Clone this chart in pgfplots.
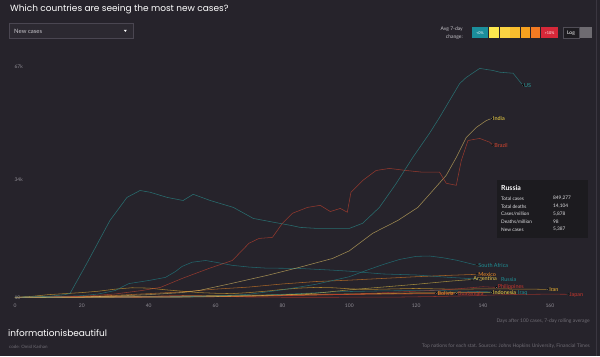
\documentclass[border=0pt]{standalone}
\usepackage{pgfplots}
\pgfplotsset{compat=1.18}
\usepackage{fontspec}
\setmainfont{Lato}
\newfontfamily\titlefont{Poppins}
\definecolor{bg}{HTML}{26232B}
\definecolor{tick}{HTML}{8E8B93}
\definecolor{dimtxt}{HTML}{6F6C74}
\definecolor{cUS}{HTML}{2A9C9A}
\definecolor{cIndia}{HTML}{EBCB6A}
\definecolor{cBrazil}{HTML}{D5462F}
\definecolor{cTeal}{HTML}{1F8F95}
\definecolor{cOrange}{HTML}{F08A24}
\definecolor{cYellow}{HTML}{EAC84A}
\definecolor{cGold}{HTML}{F3B730}
\definecolor{cRed}{HTML}{C8372D}
\definecolor{cInd}{HTML}{F6D844}
\definecolor{lgA}{HTML}{1B8E9B}
\definecolor{lgB}{HTML}{FDE84E}
\definecolor{lgC}{HTML}{FBD443}
\definecolor{lgD}{HTML}{F9BD2E}
\definecolor{lgE}{HTML}{F6A11F}
\definecolor{lgF}{HTML}{F27A22}
\definecolor{lgG}{HTML}{D62839}
\newcommand\lbl{\fontsize{5.5}{6}\selectfont}
\begin{document}
\begin{tikzpicture}
\fill[bg] (0,0) rectangle (600bp,356bp);
\begin{scope}[x=1bp,y=-1bp,shift={(0bp,356bp)}]
  \draw[color={rgb,255:red,58;green,54;blue,64}, line width=0.8bp] (596,0) -- (596,356);
  \node[anchor=west, text=white, font=\titlefont\fontsize{9}{10}\selectfont, inner sep=0] at (10,9) {Which countries are seeing the most new cases?};
  % dropdown
  \draw[draw={rgb,255:red,74;green,70;blue,81}, fill={rgb,255:red,44;green,41;blue,49}, line width=0.5bp] (9,23) rectangle (133,38);
  \node[anchor=west, text={rgb,255:red,200;green,198;blue,204}, font=\fontsize{6}{7}\selectfont, inner sep=0] at (14,30.5) {New cases};
  \fill[white] (123.8,29.5) -- (126.8,29.5) -- (125.3,31.5) -- cycle;
  % legend
  \node[anchor=east, align=right, text={rgb,255:red,200;green,198;blue,204}, font=\fontsize{5}{8}\selectfont, inner sep=0] at (463,33) {Avg 7-day\\change:};
  \fill[lgA] (472,27) rectangle (488,38);
  \fill[lgB] (489,27) rectangle (499,38);
  \fill[lgC] (499.6,27) rectangle (509.6,38);
  \fill[lgD] (510.2,27) rectangle (520,38);
  \fill[lgE] (520.6,27) rectangle (530.4,38);
  \fill[lgF] (531,27) rectangle (540.4,38);
  \fill[lgG] (541,27) rectangle (558,38);
  \node[text=white, font=\fontsize{3.8}{4}\selectfont, inner sep=0] at (480,32.5) {<0\%};
  \node[text=white, font=\fontsize{3.8}{4}\selectfont, inner sep=0] at (549.5,32.5) {>10\%};
  \draw[draw={rgb,255:red,80;green,77;blue,86}, fill={rgb,255:red,29;green,27;blue,32}, line width=0.4bp] (563,27) rectangle (579,38);
  \node[text=white, font=\fontsize{5}{6}\selectfont, inner sep=0] at (571,32.5) {Log};
  \fill[color={rgb,255:red,110;green,107;blue,113}] (580,27) rectangle (592,38);
  % footer
  \node[anchor=east, text=dimtxt, font=\fontsize{5}{6}\selectfont, inner sep=0] at (590,321) {Days after 100 cases, 7-day rolling average};
  \node[anchor=west, text=white, font=\titlefont\fontsize{9}{10}\selectfont, inner sep=0] at (8,333) {informationisbeautiful};
  \node[anchor=west, text=dimtxt, font=\fontsize{4.5}{5}\selectfont, inner sep=0] at (9,346) {code: Omid Kashan};
  \node[anchor=east, text=dimtxt, font=\fontsize{5}{6}\selectfont, inner sep=0] at (590,346) {Top nations for each stat. Sources: Johns Hopkins University, Financial Times};
\end{scope}
\begin{axis}[
  at={(15bp,59bp)}, anchor=south west,
  scale only axis, width=575bp, height=241.4bp,
  xmin=0, xmax=172, ymin=0, ymax=70,
  axis line style={draw=none}, major tick length=0pt,
  xtick={0,20,...,160}, ytick={0.01,34,67}, yticklabels={10,34k,67k},
  tick label style={font=\fontsize{5}{6}\selectfont, text=tick},
  /pgf/number format/assume math mode=true,
  xticklabel style={yshift=-3bp},
  yticklabel style={anchor=west, xshift=-4bp},
  clip=false,
  every axis plot/.append style={line width=0.55bp, opacity=0.62, mark=none},
]
% minor countries
\addplot[cRed] coordinates {(0,0.02) (20,0.05) (30,0.1) (40,0.25) (45,0.45) (50,0.55) (55,0.5) (60,0.35) (70,0.1) (80,0.05) (95,0.05) (105,0.06) (115,0.1) (125,0.25) (135,0.45) (140,0.6) (145,0.75) (150,0.85) (155,0.9) (160,0.95) (165.4,0.9)};
\addplot[cGold] coordinates {(0,0.02) (5,0.3) (10,0.8) (15,1.1) (20,1.4) (25,1.8) (30,2.4) (35,2.8) (40,2.7) (45,2.2) (50,1.8) (55,1.4) (60,1.2) (65,1.1) (70,1.4) (75,1.8) (80,2.3) (85,2.7) (90,2.9) (95,2.8) (100,2.5) (105,2.3) (110,2.4) (115,2.5) (120,2.6) (125,2.5) (130,2.4) (135,2.4) (140,2.5) (145,2.5) (150,2.4) (155,2.4) (159.4,2.3)};
\addplot[cInd] coordinates {(0,0.03) (20,0.1) (40,0.3) (60,0.5) (80,0.75) (100,1.0) (120,1.3) (142.6,1.4)};
\addplot[cTeal] coordinates {(0,0.02) (30,0.05) (50,0.05) (70,0.5) (85,1.1) (95,1.6) (110,1.9) (125,2.0) (135,1.8) (142.6,1.6)};
\addplot[cOrange] coordinates {(0,0) (30,0.02) (50,0.1) (70,0.3) (90,0.7) (110,1.0) (120,1.2) (126,1.2)};
\addplot[cRed] coordinates {(0,0) (40,0.05) (60,0.2) (80,0.6) (100,0.9) (120,1.0) (132,1.1)};
\addplot[cRed] coordinates {(0,0.01) (20,0.2) (40,0.25) (60,0.3) (80,0.5) (100,0.9) (120,1.8) (130,2.3) (140,3.1) (144,2.9)};
\addplot[cYellow] coordinates {(0,0.01) (20,0.1) (40,0.15) (60,0.25) (70,0.45) (80,0.7) (90,1.2) (100,2.2) (110,3.0) (120,3.8) (130,4.7) (136.7,5.2)};
\addplot[cOrange] coordinates {(0,0.01) (10,0.05) (20,0.2) (30,0.6) (40,1.1) (50,1.6) (60,2.4) (70,3.0) (80,3.9) (90,4.6) (100,5.0) (110,5.5) (120,6.0) (130,6.4) (138.2,6.7)};
\addplot[cTeal] coordinates {(0,0.01) (30,0.1) (50,0.2) (60,0.4) (70,0.9) (80,2.2) (90,3.8) (100,6.0) (105,7.8) (110,9.5) (115,11.0) (120,11.9) (124,12.0) (128,11.5) (132,10.8) (138.2,9.3)};
\addplot[cTeal] coordinates {(0,0.02) (10,0.1) (20,0.5) (25,1.0) (30,2.0) (34,4.0) (40,4.9) (45,5.8) (48,7.5) (50,9.0) (53,10.2) (57,10.7) (60,10.2) (65,9.3) (70,8.8) (75,8.5) (85,8.4) (95,7.9) (100,7.6) (110,6.8) (120,6.5) (130,5.8) (139,5.3)};
% major countries
\addplot[cIndia] coordinates {(0,0.01) (20,0.1) (30,0.4) (40,0.8) (50,1.4) (55,2.0) (65,4.1) (75.5,6.4) (85,8.7) (95,11.3) (100,13.5) (107,18.6) (114.5,22.3) (120.5,26.1) (125,31.0) (129,35.4) (132,40.6) (135,46.4) (138,49.3) (141,51.3) (142.6,51.9)};
\addplot[cBrazil] coordinates {(0,0.02) (20,0.3) (30,1.0) (38,2.0) (43.5,2.9) (50,5.5) (58,8.4) (65,10.7) (70,15.7) (73,17.1) (77,17.4) (80,21.5) (83,24.4) (87.5,26.1) (91.3,26.7) (94.3,24.9) (97.3,25.8) (99.4,24.7) (100.5,30.5) (104,33.9) (108,36.8) (112,37.4) (117,36.8) (122,36.3) (127,36.3) (129,33.1) (132,32.5) (133.5,39.7) (135.5,45.5) (139,46.1) (142,45.0) (143,44.1)};
\addplot[cUS] coordinates {(0,0.05) (10,0.3) (15,0.8) (16.5,1.2) (21.5,9.9) (28.4,22.3) (33.5,29.0) (37.4,31.0) (40.4,30.5) (45.5,29.0) (50.3,28.1) (53.3,29.9) (58.4,28.1) (65.3,26.1) (71.3,22.9) (77.3,21.8) (82.4,20.9) (85.3,20.3) (90.4,20.0) (100,20.0) (104,21.5) (109,26.1) (114,33.0) (119,40.6) (124,47.6) (127,52.2) (130,57.1) (133,62.0) (135,63.8) (139,66.4) (143,65.8) (145,65.3) (149,65.0) (151.9,61.5)};
% end dots
\addplot[only marks, mark=*, mark size=1bp, mark options={fill=white, draw=none}, opacity=1] coordinates {(151.9,61.5) (142.6,51.9) (143,44.1) (138.2,9.3) (138.2,6.7) (136.7,5.2) (139,5.3) (144,2.9) (142.6,1.4) (159.4,2.3) (165.4,0.9) (126,1.2) (132,1.1)};
\node[anchor=west, text=cUS, font=\lbl, inner sep=1.2bp] at (axis cs:151.9,61.5) {US};
\node[anchor=west, text=cInd, font=\lbl, inner sep=1.2bp] at (axis cs:142.6,51.9) {India};
\node[anchor=west, text=cBrazil, font=\lbl, inner sep=1.2bp] at (axis cs:143,44.1) {Brazil};
\node[anchor=west, text=cTeal, font=\lbl, inner sep=1.2bp] at (axis cs:138.2,9.3) {South Africa};
\node[anchor=west, text=cOrange, font=\lbl, inner sep=1.2bp] at (axis cs:138.2,6.7) {Mexico};
\node[anchor=west, text=cYellow, font=\lbl, inner sep=1.2bp] at (axis cs:136.7,5.2) {Argentina};
\node[anchor=west, text=cTeal, font=\lbl, inner sep=1.2bp, xshift=20bp] at (axis cs:139,5.2) {Russia};
\node[anchor=west, text=cRed, font=\lbl, inner sep=1.2bp] at (axis cs:144,2.9) {Philippines};
\node[anchor=west, text=cInd, font=\lbl, inner sep=1.2bp] at (axis cs:142.6,1.4) {Indonesia};
\node[anchor=west, text=cTeal, font=\lbl, inner sep=1.2bp, xshift=25bp] at (axis cs:142.6,1.4) {Iraq};
\node[anchor=west, text=cGold, font=\lbl, inner sep=1.2bp] at (axis cs:159.4,2.3) {Iran};
\node[anchor=west, text=cRed, font=\lbl, inner sep=1.2bp] at (axis cs:165.4,0.6) {Japan};
\node[anchor=west, text=cOrange, font=\lbl, inner sep=1.2bp] at (axis cs:126,1.2) {Bolivia};
\node[anchor=west, text=cRed, font=\lbl, inner sep=1.2bp] at (axis cs:132,1.1) {Guatemala};
\end{axis}
\begin{scope}[x=1bp,y=-1bp,shift={(0bp,356bp)}]
  \fill[color={rgb,255:red,28;green,27;blue,31}] (497,180) rectangle (588,238);
  \node[anchor=west, text=white, font=\bfseries\fontsize{7}{8}\selectfont, inner sep=0] at (501,187.5) {Russia};
  \foreach \y/\a/\b in {198/{Total cases}/{849,277}, 206/{Total deaths}/{14,104}, 213.5/{Cases/million}/{5,878}, 221/{Deaths/million}/{98}, 229/{New cases}/{5,387}}{
    \node[anchor=west, text={rgb,255:red,225;green,225;blue,228}, font=\fontsize{4.8}{5}\selectfont, inner sep=0] at (501,\y) {\a};
    \node[anchor=west, text={rgb,255:red,225;green,225;blue,228}, font=\fontsize{4.8}{5}\selectfont, inner sep=0] at (553,\y) {\b};
  }
\end{scope}
\end{tikzpicture}
\end{document}
